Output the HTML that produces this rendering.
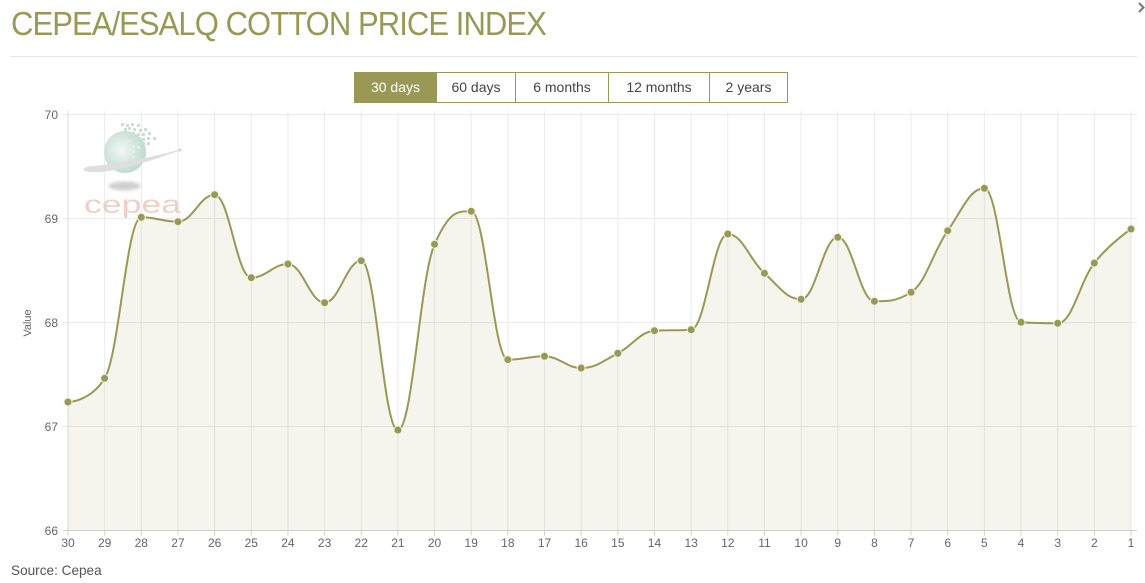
<!DOCTYPE html>
<html>
<head>
<meta charset="utf-8">
<style>
html,body{margin:0;padding:0;background:#fff;}
body{width:1145px;height:583px;overflow:hidden;position:relative;font-family:"Liberation Sans",sans-serif;}
.title{position:absolute;left:11px;top:7px;font-size:33px;line-height:33px;color:#999955;letter-spacing:-1px;white-space:nowrap;transform:scaleX(0.94);transform-origin:0 0;}
.btn{position:absolute;top:72px;height:31px;box-sizing:border-box;border:1px solid #999955;background:#fff;color:#444;font-size:14px;line-height:29px;text-align:center;}
.btn.active{background:#999955;color:#fff;}
svg{position:absolute;left:0;top:0;}
</style>
</head>
<body>
<svg width="1145" height="583" viewBox="0 0 1145 583" xmlns="http://www.w3.org/2000/svg">
  <defs>
    <radialGradient id="gl" cx="0.42" cy="0.45" r="0.6">
      <stop offset="0" stop-color="#f3f8f6"/>
      <stop offset="1" stop-color="#bcd9cd"/>
    </radialGradient>
    <filter id="bl" x="-50%" y="-100%" width="200%" height="300%"><feGaussianBlur stdDeviation="1.5"/></filter>
  </defs>
  <line x1="10" y1="56.5" x2="1137" y2="56.5" stroke="#e6e6e6" stroke-width="1"/>
  <polyline points="1139,3 1143.5,7.5 1139,12" fill="none" stroke="#777" stroke-width="2"/>

  <g stroke="#e9e9e9" stroke-width="1">
    <line x1="63" y1="114.6" x2="1137" y2="114.6"/>
    <line x1="63" y1="218.6" x2="1137" y2="218.6"/>
    <line x1="63" y1="322.6" x2="1137" y2="322.6"/>
    <line x1="63" y1="426.5" x2="1137" y2="426.5"/>
  </g>
  <path stroke="#ebebeb" stroke-width="1" fill="none" d="M68,111V530 M104.66,111V530 M141.31,111V530 M177.97,111V530 M214.62,111V530 M251.28,111V530 M287.93,111V530 M324.59,111V530 M361.24,111V530 M397.9,111V530 M434.55,111V530 M471.21,111V530 M507.86,111V530 M544.52,111V530 M581.17,111V530 M617.83,111V530 M654.48,111V530 M691.14,111V530 M727.79,111V530 M764.45,111V530 M801.1,111V530 M837.76,111V530 M874.41,111V530 M911.07,111V530 M947.72,111V530 M984.38,111V530 M1021.03,111V530 M1057.69,111V530 M1094.34,111V530 M1131,111V530"/>

  <g>
    <g fill="#c9e0d7">
      <rect x="121" y="123" width="3" height="3"/><rect x="126" y="124" width="3" height="3"/><rect x="131" y="123" width="3" height="3"/><rect x="137" y="124" width="3" height="3"/>
      <rect x="124" y="128" width="3" height="3"/><rect x="128" y="127" width="3" height="3"/><rect x="133" y="128" width="3" height="3"/><rect x="139" y="129" width="3" height="3"/><rect x="144" y="128" width="3" height="3"/>
      <rect x="122" y="132" width="3" height="3"/><rect x="127" y="132" width="3" height="3"/><rect x="132" y="132" width="3" height="3"/><rect x="137" y="133" width="3" height="3"/><rect x="142" y="133" width="3" height="3"/><rect x="148" y="132" width="3" height="3"/>
      <rect x="127" y="137" width="3" height="3"/><rect x="132" y="137" width="3" height="3"/><rect x="137" y="137" width="3" height="3"/><rect x="142" y="138" width="3" height="3"/><rect x="147" y="137" width="3" height="3"/><rect x="153" y="137" width="3" height="3"/>
      <rect x="132" y="141" width="3" height="3"/><rect x="137" y="142" width="3" height="3"/><rect x="142" y="142" width="3" height="3"/><rect x="147" y="142" width="3" height="3"/>
    </g>
    <circle cx="125" cy="152" r="21" fill="url(#gl)"/>
    <g fill="#e2eee9">
      <rect x="127" y="140" width="3" height="3"/><rect x="132" y="145" width="3" height="3"/><rect x="127" y="146" width="3" height="3"/><rect x="132" y="150" width="3" height="3"/><rect x="137" y="146" width="3" height="3"/><rect x="132" y="155" width="3" height="3"/>
    </g>
    <path d="M180,149.5 C150,158 110,165 92,166 C82,167 80,171 90,172 C110,173 140,165 180,150.5 Z" fill="#dedede"/>
    <circle cx="180" cy="150" r="1.5" fill="#d5d5d5"/>
    <ellipse cx="124.5" cy="186" rx="16" ry="4.5" fill="#cfcfcf" filter="url(#bl)"/>
    <text x="84" y="213" font-family="Liberation Sans, sans-serif" font-size="25" fill="#efd0c7" textLength="97" lengthAdjust="spacingAndGlyphs">cepea</text>
  </g>

  <path id="area" fill="rgba(153,153,85,0.1)" stroke="none" d="M68,402 L104.66,378.3 L141.31,217.3 L177.97,221.7 L214.62,194.7 L251.28,277.7 L287.93,264 L324.59,302.7 L361.24,260.7 L397.9,430 L434.55,244.3 L471.21,211.3 L507.86,359.7 L544.52,356.3 L581.17,368 L617.83,353.3 L654.48,330.7 L691.14,329.7 L727.79,234 L764.45,273.3 L801.1,299.3 L837.76,237.3 L874.41,301.3 L911.07,292.3 L947.72,230.7 L984.38,188.3 L1021.03,322.3 L1057.69,323.3 L1094.34,263 L1131,229 L1131,530.5 L68,530.5 Z"/>
  <path id="line" fill="none" stroke="#999955" stroke-width="2" stroke-linejoin="round" d="M68,402 L104.66,378.3 L141.31,217.3 L177.97,221.7 L214.62,194.7 L251.28,277.7 L287.93,264 L324.59,302.7 L361.24,260.7 L397.9,430 L434.55,244.3 L471.21,211.3 L507.86,359.7 L544.52,356.3 L581.17,368 L617.83,353.3 L654.48,330.7 L691.14,329.7 L727.79,234 L764.45,273.3 L801.1,299.3 L837.76,237.3 L874.41,301.3 L911.07,292.3 L947.72,230.7 L984.38,188.3 L1021.03,322.3 L1057.69,323.3 L1094.34,263 L1131,229"/>

  <line x1="68" y1="111" x2="68" y2="530.5" stroke="#d8d8d8" stroke-width="1"/>
  <line x1="63" y1="530.5" x2="1137" y2="530.5" stroke="#cfcfcf" stroke-width="1"/>
  <path stroke="#cfcfcf" stroke-width="1" fill="none" d="M68,530V535.5 M104.66,530V535.5 M141.31,530V535.5 M177.97,530V535.5 M214.62,530V535.5 M251.28,530V535.5 M287.93,530V535.5 M324.59,530V535.5 M361.24,530V535.5 M397.9,530V535.5 M434.55,530V535.5 M471.21,530V535.5 M507.86,530V535.5 M544.52,530V535.5 M581.17,530V535.5 M617.83,530V535.5 M654.48,530V535.5 M691.14,530V535.5 M727.79,530V535.5 M764.45,530V535.5 M801.1,530V535.5 M837.76,530V535.5 M874.41,530V535.5 M911.07,530V535.5 M947.72,530V535.5 M984.38,530V535.5 M1021.03,530V535.5 M1057.69,530V535.5 M1094.34,530V535.5 M1131,530V535.5"/>

  <g fill="#999955" stroke="#f2f2ea" stroke-width="1">
    <circle cx="68" cy="402" r="4"/><circle cx="104.66" cy="378.3" r="4"/><circle cx="141.31" cy="217.3" r="4"/><circle cx="177.97" cy="221.7" r="4"/><circle cx="214.62" cy="194.7" r="4"/>
    <circle cx="251.28" cy="277.7" r="4"/><circle cx="287.93" cy="264" r="4"/><circle cx="324.59" cy="302.7" r="4"/><circle cx="361.24" cy="260.7" r="4"/><circle cx="397.9" cy="430" r="4"/>
    <circle cx="434.55" cy="244.3" r="4"/><circle cx="471.21" cy="211.3" r="4"/><circle cx="507.86" cy="359.7" r="4"/><circle cx="544.52" cy="356.3" r="4"/><circle cx="581.17" cy="368" r="4"/>
    <circle cx="617.83" cy="353.3" r="4"/><circle cx="654.48" cy="330.7" r="4"/><circle cx="691.14" cy="329.7" r="4"/><circle cx="727.79" cy="234" r="4"/><circle cx="764.45" cy="273.3" r="4"/>
    <circle cx="801.1" cy="299.3" r="4"/><circle cx="837.76" cy="237.3" r="4"/><circle cx="874.41" cy="301.3" r="4"/><circle cx="911.07" cy="292.3" r="4"/><circle cx="947.72" cy="230.7" r="4"/>
    <circle cx="984.38" cy="188.3" r="4"/><circle cx="1021.03" cy="322.3" r="4"/><circle cx="1057.69" cy="323.3" r="4"/><circle cx="1094.34" cy="263" r="4"/><circle cx="1131" cy="229" r="4"/>
  </g>

  <g font-family="Liberation Sans, sans-serif" font-size="12" fill="#666" text-anchor="end">
    <text x="58" y="119">70</text>
    <text x="58" y="223">69</text>
    <text x="58" y="327">68</text>
    <text x="58" y="431">67</text>
    <text x="58" y="535">66</text>
  </g>
  <text transform="translate(31,323) rotate(-90)" text-anchor="middle" font-family="Liberation Sans, sans-serif" font-size="11" fill="#666">Value</text>

  <g font-family="Liberation Sans, sans-serif" font-size="12" fill="#666" text-anchor="middle">
    <text x="68" y="547">30</text><text x="104.66" y="547">29</text><text x="141.31" y="547">28</text><text x="177.97" y="547">27</text><text x="214.62" y="547">26</text>
    <text x="251.28" y="547">25</text><text x="287.93" y="547">24</text><text x="324.59" y="547">23</text><text x="361.24" y="547">22</text><text x="397.9" y="547">21</text>
    <text x="434.55" y="547">20</text><text x="471.21" y="547">19</text><text x="507.86" y="547">18</text><text x="544.52" y="547">17</text><text x="581.17" y="547">16</text>
    <text x="617.83" y="547">15</text><text x="654.48" y="547">14</text><text x="691.14" y="547">13</text><text x="727.79" y="547">12</text><text x="764.45" y="547">11</text>
    <text x="801.1" y="547">10</text><text x="837.76" y="547">9</text><text x="874.41" y="547">8</text><text x="911.07" y="547">7</text><text x="947.72" y="547">6</text>
    <text x="984.38" y="547">5</text><text x="1021.03" y="547">4</text><text x="1057.69" y="547">3</text><text x="1094.34" y="547">2</text><text x="1131" y="547">1</text>
  </g>

  <text x="11" y="575" font-family="Liberation Sans, sans-serif" font-size="13.6" fill="#555">Source: Cepea</text>
</svg>

<div class="title">CEPEA/ESALQ COTTON PRICE INDEX</div>

<div class="btn active" style="left:354px;width:83px;">30 days</div>
<div class="btn" style="left:436px;width:80px;">60 days</div>
<div class="btn" style="left:515px;width:94px;">6 months</div>
<div class="btn" style="left:608px;width:102px;">12 months</div>
<div class="btn" style="left:709px;width:79px;">2 years</div>

<script>
(function(){
  var ys=[402,378.3,217.3,221.7,194.7,277.7,264,302.7,260.7,430,244.3,211.3,359.7,356.3,368,353.3,330.7,329.7,234,273.3,299.3,237.3,301.3,292.3,230.7,188.3,322.3,323.3,263,229];
  var pts=ys.map(function(y,i){return [68+36.655*i,y];});
  var s=1.5,d=s+1,n=pts.length;
  var path='M'+pts[0][0].toFixed(2)+','+pts[0][1].toFixed(2);
  var prevR=null;
  for(var i=1;i<n;i++){
    var x=pts[i][0],y=pts[i][1],lx=pts[i-1][0],ly=pts[i-1][1];
    var lcx=x,lcy=y,rcx=null,rcy=null;
    if(i<n-1){
      var nx=pts[i+1][0],ny=pts[i+1][1];
      lcx=(s*x+lx)/d;lcy=(s*y+ly)/d;
      rcx=(s*x+nx)/d;rcy=(s*y+ny)/d;
      var corr=((rcy-lcy)*(rcx-x))/(rcx-lcx)+y-rcy;
      lcy+=corr;rcy+=corr;
      if(lcy>ly&&lcy>y){lcy=Math.max(ly,y);rcy=2*y-lcy;}
      else if(lcy<ly&&lcy<y){lcy=Math.min(ly,y);rcy=2*y-lcy;}
      if(rcy>ny&&rcy>y){rcy=Math.max(ny,y);lcy=2*y-rcy;}
      else if(rcy<ny&&rcy<y){rcy=Math.min(ny,y);lcy=2*y-rcy;}
    }
    var p=prevR||[lx,ly];
    path+=' C'+p[0].toFixed(2)+','+p[1].toFixed(2)+' '+lcx.toFixed(2)+','+lcy.toFixed(2)+' '+x.toFixed(2)+','+y.toFixed(2);
    prevR=(rcx!==null)?[rcx,rcy]:null;
  }
  document.getElementById('line').setAttribute('d',path);
  document.getElementById('area').setAttribute('d',path+' L'+pts[n-1][0].toFixed(2)+',530.5 L68,530.5 Z');
})();
</script>
</body>
</html>
